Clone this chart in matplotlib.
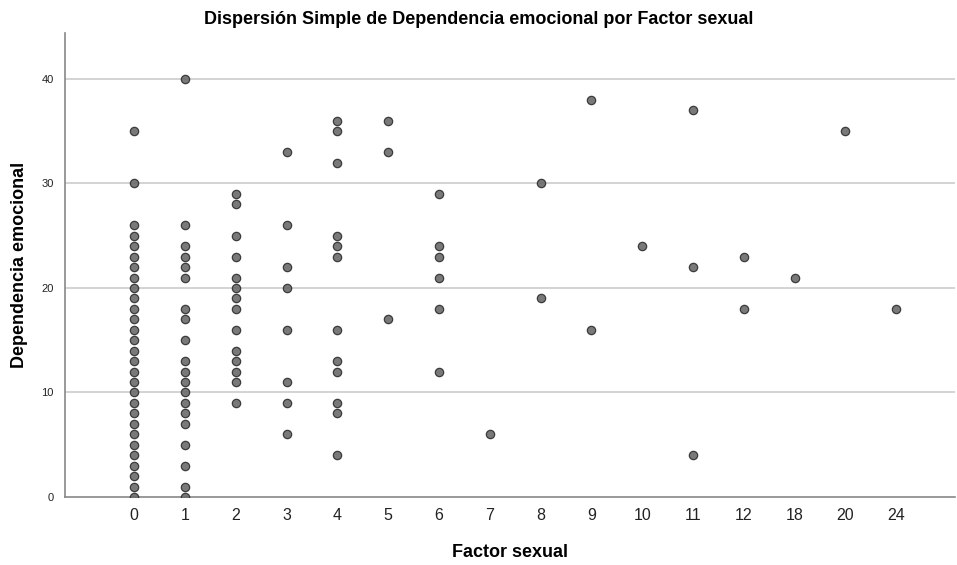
import matplotlib
matplotlib.use("Agg")
import matplotlib.pyplot as plt
import numpy as np

plt.rcParams['font.family'] = ['Liberation Sans', 'DejaVu Sans']

# categories of Factor sexual (equally spaced on the axis)
categories = ['0', '1', '2', '3', '4', '5', '6', '7', '8', '9', '10', '11', '12', '18', '20', '24']

# Dependencia emocional values per category
values = {
    '0': [35, 30] + list(range(26, -1, -1)),
    '1': [40, 26, 24, 23, 22, 21, 18, 17, 15, 13, 12, 11, 10, 9, 8, 7, 5, 3, 1, 0],
    '2': [29, 28, 25, 23, 21, 20, 19, 18, 16, 14, 13, 12, 11, 9],
    '3': [33, 26, 22, 20, 16, 11, 9, 6],
    '4': [36, 35, 32, 25, 24, 23, 16, 13, 12, 9, 8, 4],
    '5': [36, 33, 17],
    '6': [29, 24, 23, 21, 18, 12],
    '7': [6],
    '8': [30, 19],
    '9': [38, 16],
    '10': [24],
    '11': [37, 22, 4],
    '12': [23, 18],
    '18': [21],
    '20': [35],
    '24': [18],
}

xs = []
ys = []
for i, c in enumerate(categories):
    for v in values[c]:
        xs.append(i)
        ys.append(v)

fig = plt.figure(figsize=(9.57, 5.65), dpi=100)
ax = fig.add_axes([0.068, 0.1204, 0.930, 0.8212])

for y in [10, 20, 30, 40]:
    ax.axhline(y, color='#c8c8c8', lw=1.1, zorder=0)

ax.scatter(xs, ys, s=36, facecolor='#6a6a6a', edgecolor='#2e2e2e',
           linewidths=0.9, alpha=0.9, zorder=3)

ax.set_xlim(-1.36, 16.16)
ax.set_ylim(0, 44.4)
ax.set_xticks(range(len(categories)))
ax.set_xticklabels(categories)
ax.set_yticks([0, 10, 20, 30, 40])

for s in ['top', 'right']:
    ax.spines[s].set_visible(False)
for s in ['left', 'bottom']:
    ax.spines[s].set_color('#888888')
    ax.spines[s].set_linewidth(1.2)

ax.tick_params(axis='x', length=0, labelsize=11.5, colors='#222222', pad=8)
ax.tick_params(axis='y', length=0, labelsize=8, colors='#222222', pad=8)

ax.set_xlabel('Factor sexual', fontsize=13, fontweight='bold', labelpad=15)
ax.set_ylabel('Dependencia emocional', fontsize=13, fontweight='bold', labelpad=10)
fig.suptitle('Dispersión Simple de Dependencia emocional por Factor sexual',
             fontsize=13, fontweight='bold', y=0.98)

fig.savefig('out.png', dpi=100)
